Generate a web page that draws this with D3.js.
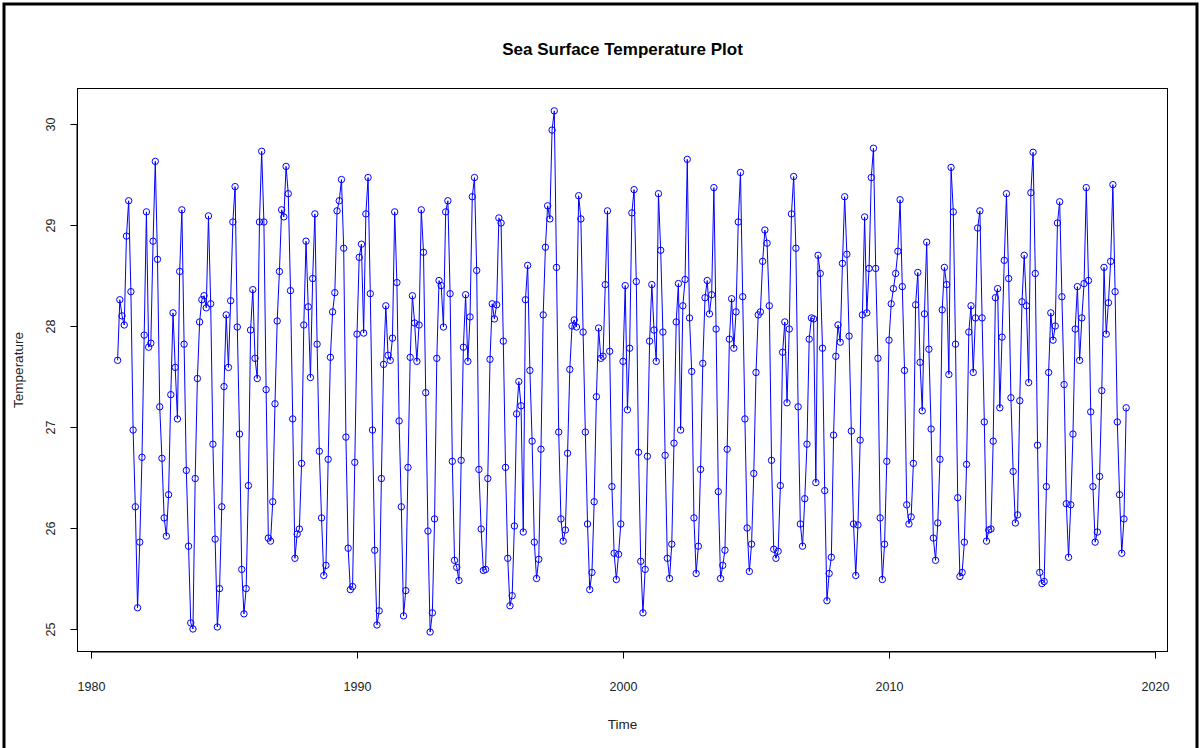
<!DOCTYPE html>
<html>
<head>
<meta charset="utf-8">
<script src="https://cdn.jsdelivr.net/npm/d3@7"></script>
<style>
  html, body { margin: 0; padding: 0; background: #fff; }
  svg { display: block; }
  text { font-family: "Liberation Sans", Arial, sans-serif; }
</style>
</head>
<body>
<svg id="chart" width="1202" height="748"></svg>
<script>
// ---- Data (monthly, Jan 1981 - Dec 2018) ----
const startYear = 1981;
const temps = [
27.66,28.26,28.10,28.01,28.89,29.24,28.34,26.97,26.21,25.21,25.86,26.70,
27.91,29.13,27.79,27.83,28.84,29.63,28.66,27.20,26.69,26.10,25.92,26.33,
27.32,28.13,27.59,27.08,28.54,29.15,27.82,26.57,25.82,25.06,25.00,26.49,
27.48,28.04,28.26,28.30,28.18,29.09,28.22,26.83,25.89,25.02,25.40,26.21,
27.40,28.11,27.59,28.25,29.03,29.38,27.99,26.93,25.59,25.15,25.40,26.42,
27.96,28.36,27.68,27.48,29.03,29.73,29.03,27.37,25.90,25.87,26.26,27.23,
28.05,28.54,29.15,29.08,29.58,29.31,28.35,27.08,25.70,25.94,25.99,26.64,
28.01,28.84,28.19,27.49,28.47,29.11,27.82,26.76,26.10,25.53,25.63,26.68,
27.69,28.14,28.33,29.14,29.24,29.45,28.77,26.90,25.80,25.39,25.42,26.65,
27.92,28.68,28.81,27.93,29.11,29.47,28.32,26.97,25.78,25.04,25.18,26.49,
27.62,28.20,27.71,27.66,27.88,29.13,28.43,27.06,26.21,25.13,25.38,26.60,
27.69,28.30,28.03,27.65,28.01,29.15,28.73,27.34,25.97,24.97,25.16,26.09,
27.68,28.45,28.40,27.99,29.13,29.24,28.32,26.66,25.68,25.61,25.48,26.67,
27.79,28.31,27.65,28.09,29.28,29.47,28.55,26.58,25.99,25.58,25.59,26.49,
27.67,28.22,28.07,28.21,29.07,29.02,27.85,26.60,25.70,25.23,25.33,26.02,
27.13,27.45,27.21,25.96,28.26,28.60,27.56,26.86,25.86,25.50,25.69,26.78,
28.11,28.78,29.19,29.06,29.94,30.13,28.58,26.95,26.09,25.87,25.98,26.74,
27.57,28.00,28.06,27.99,29.29,29.06,27.94,26.95,26.04,25.39,25.56,26.26,
27.30,27.98,27.68,27.70,28.41,29.14,27.75,26.41,25.75,25.49,25.74,26.04,
27.65,28.40,27.17,27.78,29.12,29.35,28.44,26.75,25.67,25.16,25.59,26.71,
27.85,28.41,27.96,27.65,29.31,28.75,27.94,26.72,25.70,25.50,25.84,26.84,
28.04,28.42,26.97,28.20,28.46,29.65,28.08,27.55,26.10,25.55,25.82,26.58,
27.63,28.28,28.45,28.12,28.31,29.37,27.97,26.36,25.50,25.63,25.78,26.78,
27.87,28.27,27.78,28.14,29.03,29.52,28.29,27.08,26.00,25.57,25.84,26.54,
27.54,28.11,28.14,28.64,28.95,28.82,28.20,26.67,25.79,25.70,25.77,26.42,
27.74,28.04,27.24,27.97,29.11,29.48,28.77,27.20,26.04,25.82,26.29,26.83,
27.87,28.08,28.07,26.45,28.70,28.52,27.78,26.37,25.28,25.55,25.71,26.92,
27.70,28.01,27.84,28.62,29.28,28.71,27.90,26.96,26.04,25.53,26.03,26.87,
28.11,29.08,28.13,28.57,29.47,29.76,28.57,27.68,26.10,25.49,25.84,26.66,
27.86,28.22,28.37,28.52,28.74,29.25,28.39,27.56,26.23,26.04,26.11,26.64,
28.21,28.53,27.64,27.16,28.12,28.83,27.77,26.98,25.90,25.68,26.05,26.68,
28.16,28.58,28.41,27.52,29.57,29.13,27.82,26.30,25.52,25.56,25.86,26.63,
27.94,28.20,27.54,28.08,28.97,29.14,28.08,27.05,25.87,25.98,25.99,26.86,
28.28,28.37,27.19,27.89,28.65,29.31,28.47,27.29,26.56,26.05,26.13,27.26,
28.24,28.70,28.20,27.44,29.32,29.72,28.52,26.82,25.56,25.45,25.47,26.41,
27.54,28.13,27.86,28.00,29.02,29.23,28.29,27.42,26.24,25.71,26.23,26.93,
27.97,28.39,27.66,28.08,28.42,29.37,28.45,27.15,26.41,25.86,25.96,26.51,
27.36,28.58,27.92,28.23,28.64,29.40,28.34,27.05,26.33,25.75,26.09,27.19
];
const xTicks = [1980, 1990, 2000, 2010, 2020];
const yTicks = [25, 26, 27, 28, 29, 30];
const titleText = "Sea Surface Temperature Plot";
const xLabel = "Time";
const yLabel = "Temperature";

const data = temps.map((v, i) => ({ t: startYear + i / 12, v }));

// ---- Layout ----
const svg = d3.select("#chart");
const box = { left: 77.5, right: 1167.5, top: 88.5, bottom: 651.5 };

const x = d3.scaleLinear().domain([1980, 2020]).range([91, 1155]);
const y = d3.scaleLinear().domain([25, 30]).range([629, 124]);

// outer frame
svg.append("rect")
  .attr("x", 4).attr("y", 4).attr("width", 1193).attr("height", 760)
  .attr("fill", "none").attr("stroke", "#000").attr("stroke-width", 3);

// plot box
svg.append("rect")
  .attr("x", box.left).attr("y", box.top)
  .attr("width", box.right - box.left).attr("height", box.bottom - box.top)
  .attr("fill", "none").attr("stroke", "#000").attr("stroke-width", 1);

// x axis
const xAxis = d3.axisBottom(x).tickValues(xTicks).tickFormat(d3.format("d")).tickSize(7);
const gx = svg.append("g").attr("transform", `translate(0,${box.bottom})`).call(xAxis);
gx.select(".domain").attr("d", `M${x(1980)},0.5H${x(2020)}`).attr("stroke", "#000");
gx.selectAll(".tick line").attr("stroke", "#000");
gx.selectAll("text").attr("font-size", 12.5).attr("fill", "#222").attr("dy", 0).attr("y", 39);

// y axis
const yAxis = d3.axisLeft(y).tickValues(yTicks).tickFormat(d3.format("d")).tickSize(7);
const gy = svg.append("g").attr("transform", `translate(${box.left},0)`).call(yAxis);
gy.select(".domain").attr("d", `M-0.5,${y(25)}V${y(30)}`).attr("stroke", "#000");
gy.selectAll(".tick line").attr("stroke", "#000");
gy.selectAll(".tick text")
  .attr("font-size", 12.5).attr("fill", "#222")
  .attr("x", null).attr("dy", null)
  .attr("text-anchor", "middle")
  .attr("transform", "translate(-23,0) rotate(-90)");

// series line
const line = d3.line().x(d => x(d.t)).y(d => y(d.v));
svg.append("path").datum(data)
  .attr("d", line).attr("fill", "none")
  .attr("stroke", "#0000ff").attr("stroke-width", 1);

// points
svg.append("g").selectAll("circle").data(data).join("circle")
  .attr("cx", d => x(d.t)).attr("cy", d => y(d.v)).attr("r", 3.2)
  .attr("fill", "none").attr("stroke", "#0000ff").attr("stroke-width", 1);

// titles
svg.append("text").attr("x", (box.left + box.right) / 2).attr("y", 55)
  .attr("text-anchor", "middle").attr("font-weight", "bold").attr("font-size", 17)
  .text(titleText);
svg.append("text").attr("x", (box.left + box.right) / 2).attr("y", 729)
  .attr("text-anchor", "middle").attr("font-size", 13.5).attr("fill", "#222").text(xLabel);
svg.append("text")
  .attr("transform", `translate(23,${(box.top + box.bottom) / 2}) rotate(-90)`)
  .attr("text-anchor", "middle").attr("font-size", 13.5).attr("fill", "#222").text(yLabel);
</script>
</body>
</html>
